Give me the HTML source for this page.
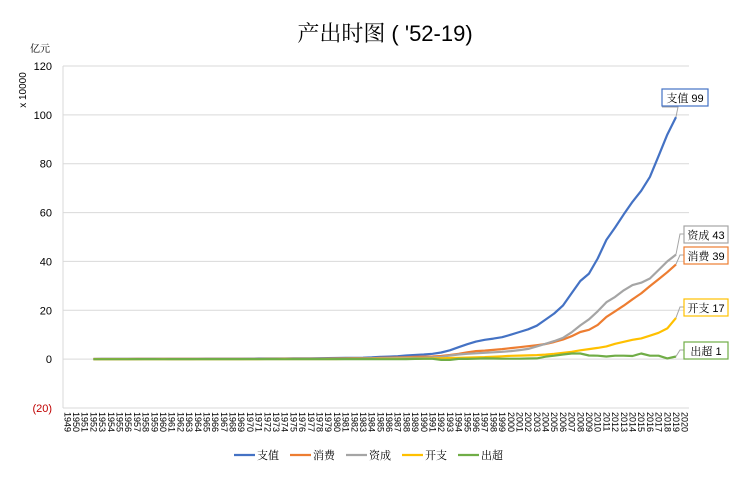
<!DOCTYPE html>
<html><head><meta charset="utf-8"><style>
body{margin:0;background:#fff;}
svg text{font-family:"Liberation Sans","Noto Serif CJK SC",sans-serif;}
</style></head><body>
<svg width="733" height="478" viewBox="0 0 733 478">
<text x="385" y="41" text-anchor="middle" font-size="22" fill="#000">产出时图 ( '52-19)</text>
<text x="40" y="52" font-size="10" text-anchor="middle">亿元</text>
<text x="0" y="0" font-size="10" transform="translate(26,90) rotate(-90)" text-anchor="middle">x 10000</text>
<g id="grid"></g><g id="ylab"></g><g id="xlab"></g><g id="series"></g><g id="callouts"></g><g id="legend"></g>
</svg>
<script>
const years=[];for(let y=1949;y<=2020;y++)years.push(y);
const startYear=1952;
const seriesNames=["支值","消费","资成","开支","出超"];
const gdp=[0.07,0.08,0.09,0.09,0.1,0.11,0.13,0.14,0.15,0.12,0.11,0.12,0.14,0.17,0.19,0.18,0.17,0.19,0.23,0.25,0.25,0.27,0.28,0.3,0.29,0.32,0.37,0.41,0.46,0.49,0.54,0.6,0.72,0.9,1.03,1.21,1.5,1.7,1.9,2.2,2.7,3.6,4.9,6.1,7.2,7.9,8.4,9.0,10.0,11.1,12.2,13.7,16.2,18.7,21.9,27.0,32.0,35.0,41.2,48.8,53.9,59.3,64.4,68.9,74.6,83.2,91.9,99.1];
const cons=[0.05,0.06,0.06,0.07,0.07,0.08,0.08,0.09,0.09,0.09,0.08,0.08,0.09,0.1,0.11,0.11,0.11,0.12,0.13,0.14,0.15,0.16,0.17,0.17,0.18,0.19,0.2,0.23,0.26,0.28,0.31,0.34,0.4,0.5,0.58,0.67,0.8,0.9,0.98,1.1,1.3,1.7,2.2,2.8,3.3,3.5,3.8,4.1,4.5,4.9,5.3,5.7,6.2,7.0,8.0,9.4,11.1,12.0,14.0,17.3,19.6,21.9,24.5,26.9,29.9,32.7,35.6,38.8];
const capf=[0.01,0.02,0.02,0.02,0.03,0.03,0.05,0.06,0.06,0.03,0.02,0.03,0.04,0.05,0.06,0.05,0.05,0.06,0.08,0.08,0.08,0.09,0.1,0.11,0.1,0.11,0.14,0.15,0.16,0.16,0.18,0.21,0.27,0.34,0.39,0.47,0.55,0.55,0.6,0.7,0.95,1.5,1.9,2.2,2.4,2.6,2.8,3.0,3.3,3.7,4.2,5.2,6.3,7.4,8.7,11.0,13.8,16.3,19.6,23.3,25.5,28.2,30.3,31.3,33.0,36.5,40.0,42.8];
const govt=[0.01,0.01,0.01,0.02,0.02,0.02,0.02,0.02,0.02,0.02,0.02,0.02,0.02,0.02,0.03,0.03,0.03,0.03,0.03,0.03,0.04,0.04,0.04,0.04,0.05,0.05,0.05,0.06,0.07,0.08,0.08,0.09,0.11,0.14,0.16,0.18,0.2,0.24,0.27,0.3,0.35,0.45,0.55,0.65,0.75,0.85,1.0,1.15,1.35,1.45,1.55,1.65,1.85,2.2,2.6,3.0,3.6,4.1,4.6,5.2,6.3,7.1,7.9,8.5,9.6,10.8,12.6,16.9];
const netx=[-0.01,-0.01,-0.01,-0.01,-0.01,0,0,0,-0.01,0,0,0,0,0,0,0,0,0,0,0,0,0,-0.01,0,0,0,0,-0.01,0,0,0.01,0.02,0,-0.02,-0.02,-0.01,0.03,0.1,0.15,0.15,-0.3,-0.3,0.1,0.1,0.2,0.3,0.25,0.2,0.2,0.2,0.25,0.3,1.0,1.4,1.9,2.3,2.3,1.5,1.4,1.1,1.4,1.4,1.3,2.3,1.4,1.4,0.3,1.1];
const seriesData=[gdp,cons,capf,govt,netx];
const colors=["#4472C4","#ED7D31","#A5A5A5","#FFC000","#70AD47"];
const endLabels=["支值 99","消费 39","资成 43","开支 17","出超 1"];
const yTicks=[120,100,80,60,40,20,0,-20];
const yTickLabels=["120","100","80","60","40","20","0","(20)"];
const NS="http://www.w3.org/2000/svg";
const L=63,R=689,T=66,B=408,yMin=-20,yMax=120;
const sx=i=>L+(R-L)*(i+0.5)/years.length;
const sy=v=>B-(v-yMin)/(yMax-yMin)*(B-T);
function mk(tag,attrs,parent){const e=document.createElementNS(NS,tag);for(const k in attrs)e.setAttribute(k,attrs[k]);document.getElementById(parent).appendChild(e);return e;}
yTicks.forEach((t,i)=>{
 const g=mk('line',{x1:L,x2:R,y1:sy(t),y2:sy(t),stroke:'#d9d9d9','stroke-width':1},'grid');
 
 
 const tx=mk('text',{x:52,y:sy(t)+4,'text-anchor':'end','font-size':11,fill:t<0?'#c00000':'#000'},'ylab');
 tx.textContent=yTickLabels[i];
 
 
});
const ax=mk('line',{x1:L,x2:L,y1:T,y2:B,stroke:'#d9d9d9'},'grid');


years.forEach((y,i)=>{
 const tx=mk('text',{x:0,y:0,'font-size':9,transform:`translate(${sx(i)-3},412) rotate(90)`},'xlab');
 tx.textContent=y;
 
 
});
const off=years.indexOf(startYear);
seriesData.forEach((d,s)=>{
 const pts=d.map((v,i)=>sx(i+off).toFixed(1)+','+sy(v).toFixed(1)).join(' ');
 const p=mk('polyline',{points:pts,fill:'none',stroke:colors[s],'stroke-width':2.2,'stroke-linejoin':'round'},'series');
 
 
});
const boxes=[[662,89,46],[684,247,44],[684,226,44],[684,299,44],[684,342,44]];
seriesData.forEach((d,s)=>{
 const li=d.length-1,ex=sx(li+off),ey=sy(d[li]);
 const b=boxes[s];
 const ln=mk('polyline',{points:`${ex},${ey} ${b[0]-4+ (s==0?20:0)},${s==0?b[1]+18:b[1]+8} ${b[0]},${s==0?b[1]+18:b[1]+8}`,fill:'none',stroke:'#a5a5a5','stroke-width':1},'callouts');
 
 
 const r=mk('rect',{x:b[0],y:b[1],width:b[2],height:17,fill:'#fff',stroke:colors[s],'stroke-width':1.2},'callouts');
 
 
 const t=mk('text',{x:b[0]+b[2]/2,y:b[1]+13,'text-anchor':'middle','font-size':11},'callouts');
 t.textContent=endLabels[s];
 
 
});
seriesNames.forEach((n,s)=>{
 const x0=234+s*56;
 const l=mk('line',{x1:x0,x2:x0+21,y1:455,y2:455,stroke:colors[s],'stroke-width':2.2},'legend');
 
 
 const t=mk('text',{x:x0+23,y:459,'font-size':11},'legend');
 t.textContent=n;
 
 
});
</script>
</body></html>
